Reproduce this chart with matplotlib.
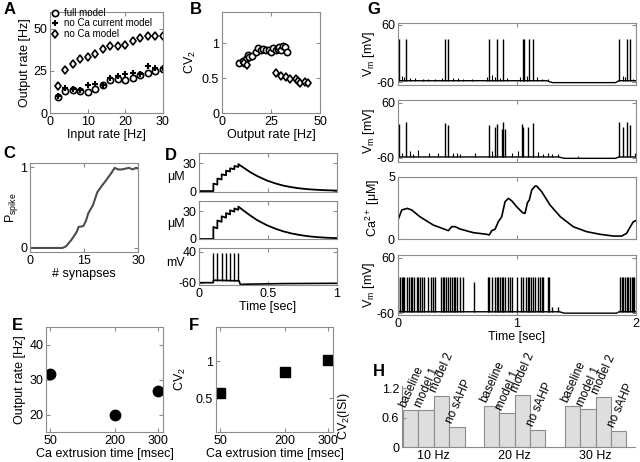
import matplotlib.pyplot as plt
import numpy as np

plt.rcParams['font.family'] = ['Liberation Sans', 'DejaVu Sans']
plt.rcParams['font.size'] = 9
plt.rcParams['mathtext.fontset'] = 'custom'
plt.rcParams['mathtext.rm'] = 'Liberation Sans'
plt.rcParams['mathtext.it'] = 'Liberation Sans:italic'
plt.rcParams['axes.unicode_minus'] = False

# A: output rate vs input rate
input_rate = [2, 4, 6, 8, 10, 12, 14, 16, 18, 20, 22, 24, 26, 28, 30]
full_model = [9.5, 13, 13.5, 13, 12.5, 14.5, 16.5, 19.5, 20, 19.5, 21, 22.5, 24, 25, 26]
no_ca_current = [10, 15, 14, 13.5, 16.5, 17, 16.5, 21, 22, 23, 24, 23, 28, 27, 27]
no_ca_model = [16, 25.5, 29, 32, 33, 35, 38, 40, 40, 40.5, 42.5, 44.5, 45.5, 46, 46]

# B: CV2 vs output rate
b_full_rate = [8.7, 10.8, 12.2, 13.3, 14.0, 15.5, 17.5, 18.3, 20, 21, 22.5, 24, 25, 25.8, 27.5, 28.5, 29, 30, 31, 32, 33]
b_full_cv = [0.72, 0.74, 0.77, 0.83, 0.81, 0.82, 0.87, 0.93, 0.90, 0.92, 0.90, 0.91, 0.88, 0.93, 0.90, 0.92, 0.95, 0.90, 0.96, 0.95, 0.88]
b_noca_rate = [11, 12.5, 27.5, 30, 32.5, 34.5, 38, 39, 40, 42.5, 44]
b_noca_cv = [0.72, 0.69, 0.57, 0.53, 0.51, 0.49, 0.49, 0.46, 0.43, 0.44, 0.43]

# C: spike probability vs number of synapses
c_syn = [0, 9, 10, 11.5, 13, 13.5, 14.8, 15.5, 16.2, 17.5, 18.7, 20, 21.2, 22.5, 23.5, 24.5, 25.5, 26.5, 27.5, 28.5, 29.5, 30]
c_p = [0, 0, 0.02, 0.1, 0.2, 0.26, 0.27, 0.33, 0.43, 0.53, 0.69, 0.77, 0.84, 0.92, 0.99, 0.97, 0.97, 0.98, 0.99, 0.97, 0.99, 0.98]

# D: calcium and voltage traces for a short burst
d_t = [0, .104, .104, .133, .133, .164, .164, .196, .196, .225, .225, .256, .256, .285, .285,
       .32, .37, .42, .49, .55, .61, .67, .73, .79, .85, .92, 1.0]
d_ca_top = [0, 0, 8, 7, 13.5, 12.5, 18, 17, 22, 21, 24.5, 23.5, 27, 26, 29,
            25.5, 20.5, 16.3, 11.5, 8.4, 5.9, 4.2, 2.9, 2, 1.4, 0.9, 0.5]
d_ca_mid = [0, 0, 13, 11.5, 20, 18.5, 24.5, 23, 28, 26.5, 31, 29.5, 33, 31.5, 35,
            31, 25.5, 20.5, 15, 11.3, 8.3, 6, 4.3, 3, 2.1, 1.4, 0.9]
d_spikes = [0.104, 0.133, 0.164, 0.196, 0.225, 0.256, 0.285]
d_vm_t = [0, 0.104, 0.104, 0.29, 0.30, 0.33, 0.6, 1.0]
d_vm = [-60, -60, -52, -54, -66, -65, -63, -62]

# E, F: extrusion time
extrusion = [50, 200, 300]
e_rate = [31.5, 20, 26.8]
f_cv2 = [0.58, 0.85, 1.02]

# G: 2 s traces
g1_spikes = [0.011, 0.070, 0.398, 0.426, 0.770, 0.832, 0.888, 1.050, 1.062, 1.106, 1.140, 1.863, 1.930, 1.955]
g1_psp_t = [0.034, 0.056, 0.104, 0.146, 0.216, 0.258, 0.314, 0.370, 0.468, 0.510, 0.552, 0.622, 0.748,
            0.790, 0.818, 0.860, 0.916, 1.028, 1.084, 1.168, 1.210, 1.266, 1.896, 1.910, 1.980]
g1_psp_v = [-48, -50, -52, -52, -54, -54, -54, -52, -52, -52, -54, -54, -50,
            -46, -50, -52, -52, -50, -48, -50, -54, -54, -48, -50, -54]
g1_base_t = [0, 1.25, 1.30, 1.83, 1.86, 2.0]
g1_base_v = [-57, -57, -61, -61, -57, -57]

g2_spikes = [0.011, 0.070, 0.398, 0.426, 0.770, 0.818, 0.832, 0.874, 0.888, 0.902, 1.042, 1.056, 1.098, 1.140,
             1.863, 1.891, 1.930, 1.955]
g2_peaks = [13, 18, 17, 11, 11, 8, 13, 2, 18, 2, 13, 8, 8, 17, 18, 8, 18, 11]
g2_psp_t = [0.034, 0.104, 0.132, 0.174, 0.263, 0.336, 0.468, 0.496, 0.524, 0.650, 0.790, 0.958,
            1.014, 1.182, 1.224, 1.266, 1.294, 1.350, 1.513, 1.994]
g2_psp_v = [-49, -45, -52, -43, -50, -49, -50, -49, -52, -50, -45, -50,
            -45, -47, -52, -50, -52, -52, -57, -49]
g2_base_t = [0, 1.35, 1.40, 1.83, 1.86, 2.0]
g2_base_v = [-58, -58, -61, -61, -58, -58]

g_ca_t = [0.005, 0.034, 0.081, 0.118, 0.187, 0.299, 0.412, 0.426, 0.454, 0.482, 0.524, 0.636, 0.748,
          0.770, 0.79, 0.818, 0.846, 0.874, 0.902, 0.930, 0.958, 1.0, 1.05, 1.07, 1.09, 1.106, 1.126,
          1.154, 1.168, 1.21, 1.28, 1.367, 1.476, 1.588, 1.70, 1.812, 1.882, 1.924, 1.952, 1.98, 2.0]
g_ca = [1.6, 2.34, 2.47, 2.34, 1.80, 1.14, 0.74, 0.69, 1.01, 1.01, 0.82, 0.53, 0.40,
        0.35, 0.69, 0.80, 1.41, 1.80, 3.0, 3.27, 3.08, 2.6, 2.12, 2.07, 2.92, 3.14, 3.93,
        4.25, 4.25, 3.8, 2.74, 1.8, 1.0, 0.61, 0.40, 0.26, 0.26, 0.48, 0.96, 1.4, 1.49]

g4_spikes = [0.006, 0.020, 0.034, 0.048, 0.056, 0.078, 0.095, 0.112, 0.123, 0.140, 0.160, 0.174, 0.188,
             0.202, 0.224, 0.258, 0.280, 0.300, 0.314, 0.361, 0.378, 0.392, 0.403, 0.420, 0.440, 0.459,
             0.471, 0.482, 0.496, 0.524, 0.552, 0.756, 0.770, 0.790, 0.818, 0.832, 0.846, 0.860,
             0.874, 0.888, 0.902, 0.930, 0.944, 0.958, 1.000, 1.036, 1.056, 1.076, 1.092, 1.104, 1.120,
             1.140, 1.154, 1.176, 1.196, 1.210, 1.224, 1.261, 1.275, 1.868, 1.882, 1.896, 1.910,
             1.924, 1.938, 1.952, 1.966, 1.980, 1.989]
g4_small_t = [0.644, 1.300, 1.350]
g4_small_v = [8, -47, -47]
g4_base_t = [0, 1.36, 1.40, 1.84, 1.86, 2.0]
g4_base_v = [-57, -57, -60, -60, -57, -57]

# H: CV2(ISI) bars
h_groups = ['10 Hz', '20 Hz', '30 Hz']
h_models = ['baseline', 'model 1', 'model 2', 'no sAHP']
h_10 = [0.75, 0.75, 1.05, 0.41]
h_20 = [0.85, 0.69, 1.06, 0.35]
h_30 = [0.85, 0.77, 1.02, 0.33]

fig = plt.figure(figsize=(6.4, 4.62), dpi=100)


def box(l, t, r, b):
    return fig.add_axes([l / 640, 1 - b / 462, (r - l) / 640, (b - t) / 462])


def style(ax, full=True):
    for s in ax.spines.values():
        s.set_color('0.55')
        s.set_linewidth(0.8)
    ax.tick_params(direction='in', length=3, color='0.55', top=full, right=full, pad=2)


def letter(x, y, s):
    fig.text(x / 640, 1 - y / 462, s, weight='bold', fontsize=12, va='top')


# A
ax = box(50, 12, 163, 113)
style(ax)
ax.plot(input_rate, full_model, 'o', mfc='white', mec='k', ms=4.5, mew=1.2, label='full model')
ax.plot(input_rate, no_ca_current, '+', color='k', ms=5, mew=1.5, label='no Ca current model')
ax.plot(input_rate, no_ca_model, 'd', mfc='white', mec='k', ms=4.5, mew=1.2, label='no Ca model')
ax.set_xlim(0, 30)
ax.set_ylim(0, 60)
ax.set_xticks([0, 10, 20, 30])
ax.set_yticks([0, 25, 50])
ax.set_xlabel('Input rate [Hz]', labelpad=1)
ax.set_ylabel('Output rate [Hz]', labelpad=2)
ax.legend(loc='upper left', bbox_to_anchor=(0.0, 1.04), frameon=False, fontsize=7,
          handlelength=1, handletextpad=0.4, labelspacing=0.05, borderpad=0, borderaxespad=0)
letter(4, 2, 'A')

# B
ax = box(222, 12, 320, 113)
style(ax)
ax.plot(b_full_rate, b_full_cv, 'o', mfc='white', mec='k', ms=4.5, mew=1.2)
ax.plot(b_noca_rate, b_noca_cv, 'd', mfc='white', mec='k', ms=4.5, mew=1.2)
ax.set_xlim(0, 50)
ax.set_ylim(0, 1.45)
ax.set_xticks([0, 25, 50])
ax.set_yticks([0, 0.5, 1])
ax.set_yticklabels(['0', '0.5', '1'])
ax.set_xlabel('Output rate [Hz]', labelpad=1)
ax.set_ylabel('CV$_2$', labelpad=3)
letter(190, 2, 'B')

# C
ax = box(30, 163, 138, 252)
style(ax)
ax.plot(c_syn, c_p, color='0.3', lw=1.5)
ax.set_xlim(0, 30)
ax.set_ylim(-0.05, 1.05)
ax.set_xticks([0, 15, 30])
ax.set_yticks([0, 1])
ax.set_xlabel('# synapses', labelpad=1)
ax.set_ylabel('P$_{\\mathrm{spike}}$', labelpad=0)
letter(3, 146, 'C')

# D
ax = box(199, 153, 337, 192)
style(ax)
ax.plot(d_t, d_ca_top, color='k', lw=1.3)
ax.set_xlim(0, 1)
ax.set_ylim(-1, 41)
ax.set_xticks([0, 0.5, 1])
ax.set_xticklabels([])
ax.set_yticks([0, 30])
ax.set_ylabel('μM', rotation=0, ha='right', va='center')
ax.yaxis.set_label_coords(-0.10, 0.38)
letter(165, 148, 'D')

ax = box(199, 201, 337, 239)
style(ax)
ax.plot(d_t, d_ca_mid, color='k', lw=1.3)
ax.set_xlim(0, 1)
ax.set_ylim(0, 41)
ax.set_xticks([0, 0.5, 1])
ax.set_xticklabels([])
ax.set_yticks([0, 30])
ax.set_ylabel('μM', rotation=0, ha='right', va='center')
ax.yaxis.set_label_coords(-0.10, 0.4)

ax = box(199, 248, 337, 285)
style(ax)
ax.plot(d_vm_t, d_vm, color='k', lw=1.2)
ax.vlines(d_spikes, -53, 37, color='k', lw=1)
ax.set_xlim(0, 1)
ax.set_ylim(-67.5, 52)
ax.set_xticks([0, 0.5, 1])
ax.set_xticklabels(['0', '0.5', '1'])
ax.set_yticks([-60, 40])
ax.set_xlabel('Time [sec]', labelpad=1)
ax.set_ylabel('mV', rotation=0, ha='right', va='center')
ax.yaxis.set_label_coords(-0.10, 0.6)

# E
ax = box(46, 327, 163, 432)
style(ax)
ax.plot(extrusion, e_rate, 'o', color='k', ms=7.5)
ax.set_xlim(40, 312)
ax.set_ylim(15, 45)
ax.set_xticks(extrusion)
ax.set_yticks([20, 30, 40])
ax.set_xlabel('Ca extrusion time [msec]', labelpad=1)
ax.set_ylabel('Output rate [Hz]', labelpad=2)
letter(12, 318, 'E')

# F
ax = box(216, 327, 333, 432)
style(ax)
ax.plot(extrusion, f_cv2, 's', color='k', ms=6.5)
ax.set_xlim(40, 312)
ax.set_ylim(0.05, 1.46)
ax.set_xticks(extrusion)
ax.set_yticks([0.5, 1])
ax.set_yticklabels(['0.5', '1'])
ax.set_xlabel('Ca extrusion time [msec]', labelpad=1)
ax.set_ylabel('CV$_2$', labelpad=6)
letter(189, 318, 'F')

# G
gl, gr = 397.7, 635.7
ax = box(gl, 23, gr, 85)
style(ax)
ax.plot(g1_base_t, g1_base_v, color='k', lw=1)
ax.vlines(g1_psp_t, -58, g1_psp_v, color='k', lw=0.8)
ax.vlines(g1_spikes, -58, 31, color='k', lw=1)
ax.set_xlim(0, 2)
ax.set_ylim(-66, 64)
ax.set_xticks([0, 1, 2])
ax.set_xticklabels([])
ax.set_yticks([-60, 60])
ax.set_ylabel('V$_\\mathrm{m}$ [mV]', labelpad=0)
letter(367, 2, 'G')

ax = box(gl, 100, gr, 162)
style(ax)
ax.plot(g2_base_t, g2_base_v, color='k', lw=1)
ax.vlines(g2_psp_t, -59, g2_psp_v, color='k', lw=0.8)
ax.vlines(g2_spikes, -59, g2_peaks, color='k', lw=1)
ax.set_xlim(0, 2)
ax.set_ylim(-69, 66)
ax.set_xticks([0, 1, 2])
ax.set_xticklabels([])
ax.set_yticks([-60, 60])
ax.set_ylabel('V$_\\mathrm{m}$ [mV]', labelpad=0)

ax = box(gl, 176.7, gr, 239.3)
style(ax)
ax.plot(g_ca_t, g_ca, color='k', lw=1.2)
ax.set_xlim(0, 2)
ax.set_ylim(0, 5)
ax.set_xticks([0, 1, 2])
ax.set_xticklabels([])
ax.set_yticks([0, 5])
ax.set_ylabel('Ca$^{2+}$ [μM]', labelpad=4)

ax = box(gl, 255, gr, 315)
style(ax)
ax.plot(g4_base_t, g4_base_v, color='k', lw=1)
ax.vlines(g4_spikes, -58, 19, color='k', lw=1)
ax.vlines(g4_small_t, -58, g4_small_v, color='k', lw=1)
ax.set_xlim(0, 2)
ax.set_ylim(-64, 66)
ax.set_xticks([0, 1, 2])
ax.set_yticks([-60, 60])
ax.set_xlabel('Time [sec]', labelpad=1)
ax.set_ylabel('V$_\\mathrm{m}$ [mV]', labelpad=0)

# H
ax = box(402, 386, 635, 447)
style(ax, full=False)
ax.spines['top'].set_visible(False)
ax.spines['right'].set_visible(False)
pitch = 5.27
for g, vals in enumerate([h_10, h_20, h_30]):
    xs = [g * pitch + i for i in range(len(vals))]
    ax.bar(xs, vals, width=1, align='edge', color='0.87', edgecolor='0.55', lw=0.8)
    for x, v, name in zip(xs, vals, h_models):
        ax.text(x + 0.35, v + 0.03, name, rotation=66, ha='left', va='bottom',
                rotation_mode='anchor', fontsize=8.5)
ax.set_xlim(-0.07, 15.1)
ax.set_ylim(0, 1.25)
ax.set_yticks([0, 0.6, 1.2])
ax.set_yticklabels(['0', '0.6', '1.2'])
ax.set_xticks([g * pitch + 2 for g in range(3)])
ax.set_xticklabels(h_groups)
ax.tick_params(axis='x', length=0, pad=2)
ax.set_ylabel('CV$_2$(ISI)')
ax.yaxis.set_label_coords(-0.215, 0.5)
letter(373, 364, 'H')

fig.savefig('out.png', dpi=100)
